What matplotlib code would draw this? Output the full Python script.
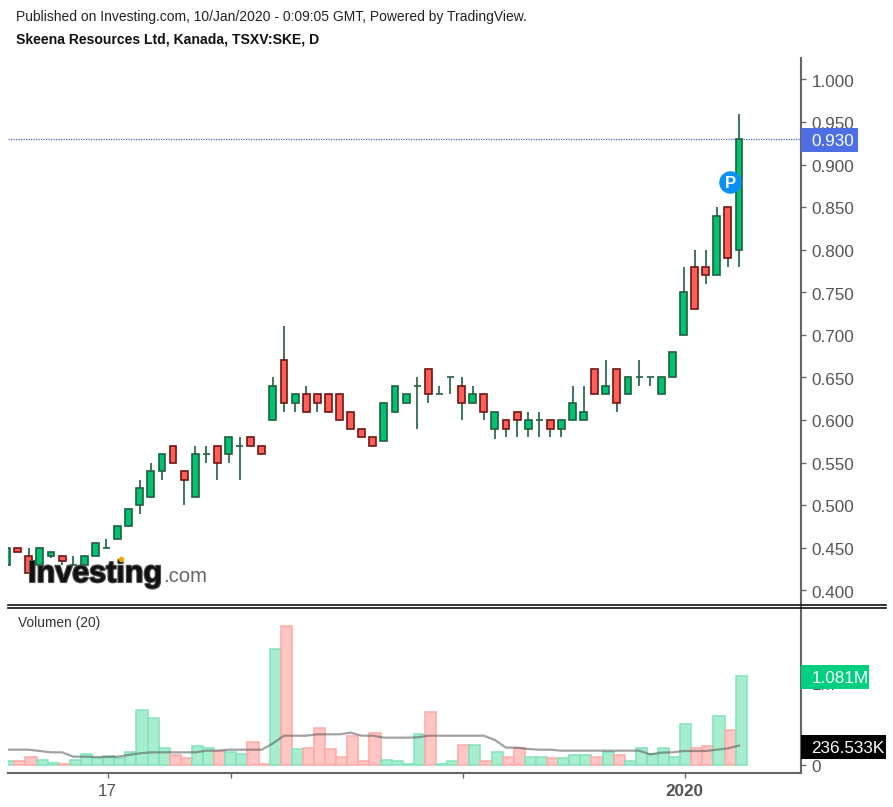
import matplotlib
matplotlib.use("Agg")
import matplotlib.pyplot as plt
import matplotlib.patheffects as pe
from matplotlib.lines import Line2D
from matplotlib.patches import Rectangle
from matplotlib.transforms import blended_transform_factory, ScaledTranslation

plt.rcParams['font.family'] = ['Liberation Sans', 'DejaVu Sans']

W, H = 893, 807

open_ = [.43,.45,.44,.43,.44,.44,.43,.43,.44,.45,.46,.475,.50,.51,.54,.57,.54,.51,.56,.57,.56,.57,.58,.57,
         .60,.67,.62,.63,.63,.63,.63,.61,.59,.58,.575,.61,.62,.64,.66,.63,.65,.64,.62,.63,.59,.60,.61,.59,.60,.60,
         .59,.60,.60,.66,.63,.66,.63,.65,.65,.63,.65,.70,.78,.78,.77,.85,.80]
close = [.45,.445,.42,.45,.445,.435,.43,.44,.455,.45,.475,.495,.52,.54,.56,.55,.53,.56,.56,.55,.58,.57,.57,.56,
         .64,.62,.63,.61,.62,.61,.60,.59,.58,.57,.62,.64,.63,.64,.63,.63,.65,.62,.63,.61,.61,.59,.60,.60,.60,.59,
         .60,.62,.61,.63,.64,.62,.65,.65,.65,.65,.68,.75,.73,.77,.84,.79,.93]
high = [.45,.45,.45,.45,.445,.44,.44,.44,.455,.46,.475,.495,.53,.55,.56,.57,.54,.57,.57,.57,.58,.58,.58,.57,
        .65,.71,.63,.64,.63,.63,.63,.61,.59,.58,.62,.64,.63,.65,.66,.64,.65,.65,.64,.63,.61,.60,.61,.61,.61,.60,
        .60,.64,.64,.66,.67,.66,.65,.67,.65,.65,.68,.78,.80,.80,.85,.85,.96]
low = [.43,.445,.42,.43,.4375,.43,.43,.43,.44,.45,.46,.475,.49,.51,.53,.55,.50,.51,.55,.53,.55,.53,.57,.56,
       .60,.61,.61,.61,.61,.61,.60,.59,.58,.57,.575,.61,.62,.59,.62,.63,.63,.60,.62,.60,.5775,.58,.58,.58,.58,.58,
       .58,.60,.60,.63,.63,.61,.63,.64,.64,.63,.65,.70,.73,.76,.77,.78,.78]
volume_k = [45,45,101,61,28,12,61,138,89,105,89,154,664,575,211,122,85,231,211,174,154,138,284,12,
            1413,1689,194,211,450,194,101,356,45,393,65,45,12,373,648,12,45,247,247,45,154,101,211,101,101,81,
            81,122,122,101,158,122,45,211,138,211,101,502,211,231,591,429,1081]
vol_ma_k = [186,186,186,170,154,154,101,101,97,97,101,122,142,154,154,154,154,154,174,174,186,186,186,186,
            263,356,356,356,373,373,373,393,356,356,332,332,332,336,356,356,356,356,356,356,304,211,211,194,186,186,
            174,174,174,174,174,174,174,174,130,150,154,170,170,170,186,203,236.5]
price_ticks = [.40,.45,.50,.55,.60,.65,.70,.75,.80,.85,.90,.95,1.00]
time_ticks = [9.1, 20.2, 41.1, 61.1]
time_labels = ['17', '', '', '2020']
last_price = 0.93
last_volume_k = 1081
ma_last_k = 236.533

n = len(open_)
xs = list(range(n))

GREEN, RED = '#00c26f', '#ff5f57'
GEDGE, REDGE = '#1f5f42', '#701515'
AXC = '#666666'
TXT = '#555555'

fig = plt.figure(figsize=(W/100, H/100), dpi=100, facecolor='white')

def axpx(l, t, r, b):
    return fig.add_axes([l/W, 1-b/H, (r-l)/W, (b-t)/H])

def fx(x): return x/W
def fy(y): return 1-y/H

x0 = 6.6; dx = (739-6.6)/66
xlim = ((8-x0)/dx, (801-x0)/dx)
PX_PRICE = 851.4
PX_VOL = 82.3/1000
nudge = ScaledTranslation(0, -1.2/100, fig.dpi_scale_trans)

ax = axpx(8, 58, 801, 604)
ax.set_xlim(*xlim)
ax.set_ylim(.4-13.7/PX_PRICE, .4+532.3/PX_PRICE)
ax.vlines(xs, low, high, color=GEDGE, lw=1.2, zorder=2)
for i in xs:
    up = close[i] >= open_[i]
    ax.bar(i, abs(close[i]-open_[i]), bottom=min(open_[i], close[i]), width=.62,
           color=GREEN if up else RED, edgecolor=GEDGE if up else REDGE, lw=1.2, zorder=3)
ax.axhline(last_price, color='#4466cc', lw=.9, ls=(0, (1, 1)), zorder=1)
ax.yaxis.tick_right()
ax.set_yticks(price_ticks)
ax.set_yticklabels([f'{p:.3f}' for p in price_ticks], va='center_baseline')
ax.tick_params(axis='y', length=3.6, width=1, color=AXC, labelcolor=TXT, labelsize=12.3, pad=4)
for lab in ax.get_yticklabels():
    lab.set_transform(lab.get_transform() + nudge)
ax.set_xticks([])
for s in ['top', 'left', 'bottom']:
    ax.spines[s].set_visible(False)
ax.spines['right'].set_color(AXC)
ax.spines['right'].set_linewidth(1.5)

ax.scatter([65.2], [.88], s=262, color='#0a90f5', zorder=6, lw=0)
ax.text(65.2, .88, 'P', color='white', fontweight='bold', fontsize=12, ha='center', va='center_baseline', zorder=7)

def badge(a, value, label, color, right_px, px_per_unit):
    tr = blended_transform_factory(fig.transFigure, a.transData)
    h = 24/px_per_unit
    a.add_patch(Rectangle((fx(800.5), value-h/2), (right_px-800.5)/W, h, transform=tr + nudge, fc=color, ec='none',
                          clip_on=False, zorder=9))
    a.text(fx(811.5), value, label, transform=tr + nudge, color='white', fontsize=12.3, va='center_baseline', ha='left',
           clip_on=False, zorder=10)

badge(ax, last_price, f'{last_price:.3f}', '#4c70e4', 857.5, PX_PRICE)

av = axpx(8, 607, 801, 773)
av.set_xlim(*xlim)
av.set_ylim(-8/PX_VOL, (765-607)/PX_VOL)
for i in xs:
    up = close[i] >= open_[i]
    av.bar(i+.2, volume_k[i], width=1.0,
           color='#a8edd0' if up else '#ffc6c3', edgecolor='#7fe4bb' if up else '#ffaaa6', lw=1.1, zorder=2)
av.plot(xs, vol_ma_k, color='#555555', alpha=.55, lw=1.6, zorder=3)
av.yaxis.tick_right()
av.set_yticks([0, 1000])
av.set_yticklabels(['0', '1M'], va='center_baseline')
av.tick_params(axis='y', length=3.6, width=1, color=AXC, labelcolor=TXT, labelsize=12.3, pad=4)
for lab in av.get_yticklabels():
    lab.set_transform(lab.get_transform() + nudge)
av.set_xticks(time_ticks)
av.set_xticklabels(time_labels)
av.tick_params(axis='x', length=3.6, width=1, color=AXC, labelcolor=TXT, labelsize=12.3, pad=4)
av.get_xticklabels()[3].set_fontweight('bold')
for s in ['top', 'left']:
    av.spines[s].set_visible(False)
for s in ['right', 'bottom']:
    av.spines[s].set_color(AXC)
    av.spines[s].set_linewidth(1.5)
av.patch.set_alpha(0)

badge(av, last_volume_k, '1.081M', '#00cf82', 869, PX_VOL)
badge(av, ma_last_k, '236.533K', '#000000', 886, PX_VOL)

fig.add_artist(Line2D([fx(8), fx(886)], [fy(605), fy(605)], color='#111111', lw=1.2))
fig.add_artist(Line2D([fx(8), fx(886)], [fy(607.5), fy(607.5)], color='#111111', lw=1.2))

fig.text(fx(16), fy(17), 'Published on Investing.com, 10/Jan/2020 - 0:09:05 GMT, Powered by TradingView.',
         fontsize=10, color='#222222', va='center')
fig.text(fx(16), fy(40), 'Skeena Resources Ltd, Kanada, TSXV:SKE, D',
         fontsize=10.1, fontweight='bold', color='#111111', va='center')
fig.text(fx(18), fy(623), 'Volumen (20)', fontsize=9.9, color='#333333', va='center')

fig.text(fx(28), fy(582), 'Investing', fontsize=22, fontweight='bold', color='#111111', va='baseline',
         path_effects=[pe.withStroke(linewidth=1.6, foreground='#555555')], zorder=20)
fig.text(fx(163), fy(582), '.com', fontsize=14.6, color='#666666', va='baseline', zorder=20)
fig.add_artist(Line2D([fx(120.7)], [fy(559)], marker='o', ms=4, color='#f7a600', mew=0, zorder=21))

fig.savefig('out.png', dpi=100)
